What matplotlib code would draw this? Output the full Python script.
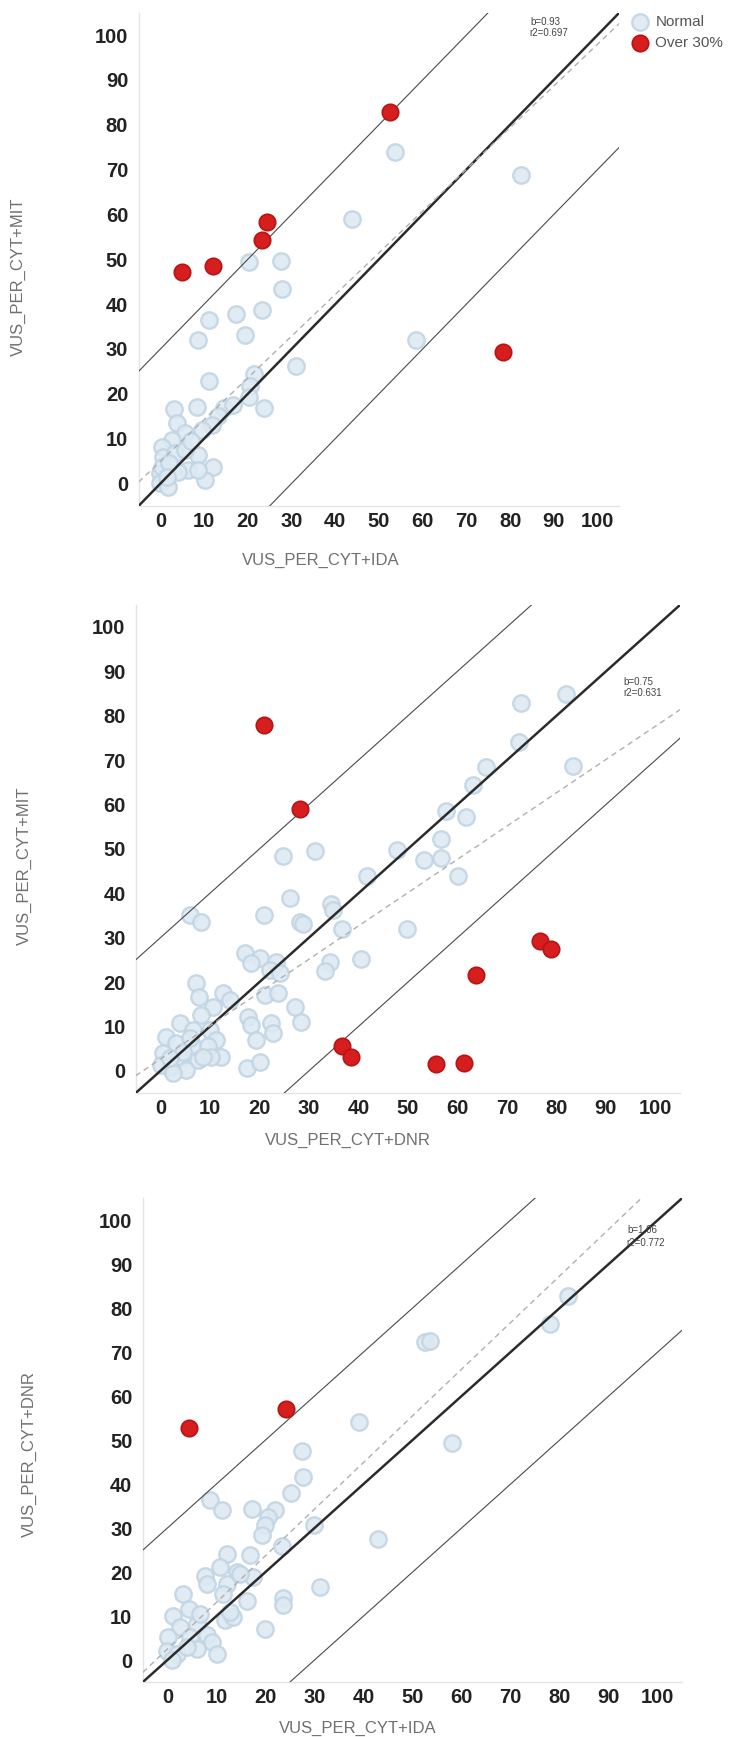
import matplotlib
matplotlib.use("Agg")
import matplotlib.pyplot as plt
import numpy as np

plt.rcParams['font.family'] = ['Liberation Sans', 'DejaVu Sans']

# ---------------- data ----------------
p1_normal_x = [53.6, 82.6, 43.9, 20.3, 27.6, 27.7, 23.3, 17.3, 11.2, 19.4, 8.6, 58.4, 31.1, 11.0,
               21.3, 20.6, 20.2, 23.6, 3.2, 8.4, 14.6, 13.1, 3.7, 11.7, 9.4, 5.6, 2.6, 0.3, 0.6,
               3.3, 8.6, 5.6, 12.1, 10.2, 6.4, 8.6, 4.1, -0.1, 0.0, 1.8, 0.3, 7.0, 2.0, 16.5, 1.5]
p1_normal_y = [74.0, 68.7, 59.0, 49.3, 49.5, 43.3, 38.6, 37.8, 36.5, 33.2, 32.0, 32.0, 26.2, 22.8,
               24.4, 21.8, 19.3, 16.8, 16.5, 17.0, 16.8, 15.0, 13.4, 13.0, 11.9, 11.2, 9.7, 8.2, 6.0,
               6.7, 6.3, 7.5, 3.7, 0.8, 3.0, 3.0, 2.6, 2.3, 0.0, -0.7, 3.7, 9.5, 4.5, 17.5, 1.5]
p1_red_x = [4.9, 12.0, 23.2, 24.3, 52.6, 78.4]
p1_red_y = [47.1, 48.5, 54.4, 58.3, 82.9, 29.3]

p2_normal_x = [81.9, 72.8, 72.5, 83.3, 65.7, 63.2, 57.6, 61.8, 56.6, 47.7, 53.2, 56.6, 60.1, 24.7,
               31.3, 41.7, 26.1, 34.5, 34.9, 20.9, 6.0, 8.2, 28.3, 28.8, 36.6, 49.8, 40.6, 34.2,
               33.2, 17.0, 20.1, 18.4, 23.4, 22.1, 24.1, 7.3, 7.9, 12.6, 14.0, 21.1, 23.8, 10.6,
               8.3, 27.1, 28.5, 17.7, 18.4, 22.4, 22.7, 19.4, 3.9, 6.6, 10.0, 11.3, 1.2, 3.2, 6.6,
               9.6, 12.3, 0.5, 3.9, 7.6, 10.3, 8.6, 1.9, 5.2, 0.2, 2.5, 17.4, 20.1, 4.5, 2.0, 6.0]
p2_normal_y = [85.0, 82.8, 74.2, 68.7, 68.5, 64.3, 58.5, 57.2, 52.2, 49.7, 47.4, 47.9, 43.9, 48.5,
               49.5, 43.8, 38.9, 37.7, 36.2, 35.1, 35.2, 33.5, 33.5, 33.2, 32.0, 32.0, 25.2, 24.6,
               22.6, 26.5, 25.4, 24.2, 24.6, 22.7, 22.0, 19.7, 16.7, 17.5, 16.0, 17.1, 17.5, 14.5,
               12.6, 14.5, 11.1, 12.2, 10.3, 10.7, 8.5, 7.0, 10.7, 9.2, 9.2, 7.0, 7.7, 6.2, 5.5,
               5.5, 3.2, 4.0, 2.8, 2.5, 3.2, 3.2, 0.9, 0.2, 1.3, -0.5, 0.6, 2.1, 4.2, 3.0, 7.5]
p2_red_x = [20.9, 28.2, 76.7, 78.9, 63.7, 55.7, 61.3, 36.6, 38.6]
p2_red_y = [77.9, 59.1, 29.3, 27.4, 21.7, 1.6, 1.8, 5.5, 3.2]

p3_normal_x = [81.7, 78.0, 52.6, 53.6, 39.1, 58.0, 27.5, 27.7, 25.3, 8.7, 11.1, 17.2, 21.9, 20.6,
               19.9, 19.2, 29.8, 23.3, 43.0, 12.1, 16.8, 10.7, 14.1, 7.7, 8.0, 17.5, 12.1, 16.2,
               11.4, 31.1, 23.6, 23.6, 19.9, 3.2, 4.3, 1.2, 11.7, 13.4, 2.6, 6.0, 0.2, 4.6, 8.0,
               9.0, 10.1, -0.1, 1.9, 0.9, 6.0, 3.9, 14.8, 12.8, 6.6]
p3_normal_y = [82.8, 76.4, 72.2, 72.4, 54.0, 49.4, 47.6, 41.6, 38.0, 36.3, 34.0, 34.4, 34.0, 32.5,
               30.6, 28.3, 30.6, 26.0, 27.6, 24.1, 23.8, 21.1, 20.0, 19.2, 17.3, 18.8, 17.3, 13.5,
               15.0, 16.5, 14.0, 12.4, 7.0, 15.0, 11.6, 10.1, 9.0, 9.7, 7.4, 8.2, 5.2, 5.2, 5.6,
               4.0, 1.4, 2.1, 1.4, -0.1, 2.5, 2.9, 19.6, 10.9, 10.5]
p3_red_x = [4.5, 24.2]
p3_red_y = [52.8, 57.0]

slopes = [0.93, 0.75, 1.06]
intercepts = [4.95, 2.65, 2.5]
r2_values = ["0.697", "0.631", "0.772"]
x_labels = ["VUS_PER_CYT+IDA", "VUS_PER_CYT+DNR", "VUS_PER_CYT+IDA"]
y_labels = ["VUS_PER_CYT+MIT", "VUS_PER_CYT+MIT", "VUS_PER_CYT+DNR"]
ticks = list(range(0, 101, 10))
band = 30

panels = [
    (p1_normal_x, p1_normal_y, p1_red_x, p1_red_y),
    (p2_normal_x, p2_normal_y, p2_red_x, p2_red_y),
    (p3_normal_x, p3_normal_y, p3_red_x, p3_red_y),
]

# ---------------- layout (pixels) ----------------
W, H = 729, 1737
fig = plt.figure(figsize=(W / 100, H / 100), dpi=100)
fig.patch.set_facecolor('white')

boxes = [(138.6, 12.6, 619.4, 505.9), (135.6, 604.8, 680.2, 1093.1), (142.9, 1198.0, 682.3, 1682.0)]
ytick_pad = [7.5, 7.2, 7.5]
ylab_pos = [(-0.25, 0.465), (-0.205, 0.466), (-0.211, 0.470)]
xlab_pos = [(0.379, -0.11), (0.389, -0.096), (0.3975, -0.096)]
ann_pos = [((0.814, 0.9816), (0.812, 0.958)), ((0.895, 0.8425), (0.895, 0.8188)),
           ((0.899, 0.934), (0.897, 0.906))]

normal_face = '#dde9f2'
normal_edge = '#c2d5e4'
red_face = '#d61e1e'
red_edge = '#b81414'

for i, (nx, ny, rx, ry) in enumerate(panels):
    l, t, r, b = boxes[i]
    ax = fig.add_axes([l / W, 1 - b / H, (r - l) / W, (b - t) / H])
    ax.set_xlim(-5, 105)
    ax.set_ylim(-5, 105)
    sc_n = ax.scatter(nx, ny, s=140, facecolor=normal_face, edgecolor=normal_edge,
                      linewidth=1.7, alpha=0.9, zorder=2, label='Normal')
    ax.axline((0, 0), slope=1, color='#2b2b2b', lw=1.8, zorder=3)
    ax.axline((0, band), slope=1, color='#4a4a4a', lw=0.8, zorder=3)
    ax.axline((0, -band), slope=1, color='#4a4a4a', lw=0.8, zorder=3)
    ax.axline((0, intercepts[i]), slope=slopes[i], color='#b0b0b0', lw=1.0,
              dashes=(4, 3), zorder=3)
    sc_r = ax.scatter(rx, ry, s=140, facecolor=red_face, edgecolor=red_edge,
                      linewidth=1.2, zorder=4, label='Over 30%')

    ax.set_xticks(ticks)
    ax.set_yticks(ticks)
    ax.tick_params(axis='both', length=0, labelsize=14.5, colors='#222222')
    ax.tick_params(axis='y', pad=ytick_pad[i])
    ax.tick_params(axis='x', pad=4.5)
    for lab in ax.get_xticklabels() + ax.get_yticklabels():
        lab.set_fontweight('bold')
    for s in ['top', 'right']:
        ax.spines[s].set_visible(False)
    for s in ['left', 'bottom']:
        ax.spines[s].set_color('#e4e4e4')
        ax.spines[s].set_linewidth(1.0)

    ax.set_xlabel(x_labels[i], fontsize=12, color='#707070', va='center')
    ax.xaxis.set_label_coords(*xlab_pos[i])
    ax.set_ylabel(y_labels[i], fontsize=12, color='#707070', va='center')
    ax.yaxis.set_label_coords(*ylab_pos[i])

    (bx, by), (rx2, ry2) = ann_pos[i]
    ax.text(bx, by, f"b={slopes[i]:.2f}", transform=ax.transAxes, fontsize=7,
            color='#444444', ha='left', va='center')
    ax.text(rx2, ry2, f"r2={r2_values[i]}", transform=ax.transAxes, fontsize=7,
            color='#444444', ha='left', va='center')

    if i == 0:
        ax.legend(handles=[sc_n, sc_r], loc='upper left',
                  bbox_to_anchor=(632.4 / W, 1 - 15.5 / H), bbox_transform=fig.transFigure,
                  frameon=False, fontsize=11, labelcolor='#555555', handlelength=1.0,
                  handletextpad=0.5, borderpad=0, borderaxespad=0, labelspacing=0.4,
                  scatterpoints=1)

fig.savefig('out.png', dpi=100, facecolor='white')
